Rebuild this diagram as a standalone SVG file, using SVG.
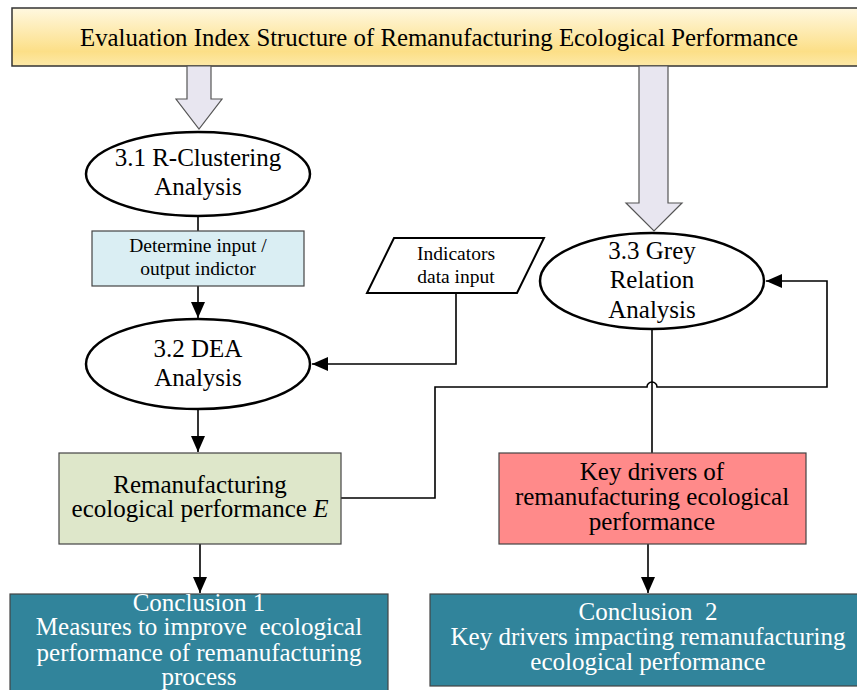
<svg xmlns="http://www.w3.org/2000/svg" width="857" height="690" viewBox="0 0 857 690">
<style>
text{font-family:"Liberation Serif","Times New Roman",serif;fill:#000;text-anchor:middle}
.big{font-size:25px}
.sm{font-size:19.5px}
.wt{fill:#fff}
.ell{fill:#fff;stroke:#000;stroke-width:2.5}
.box{stroke:#444;stroke-width:1.2}
.conn{fill:none;stroke:#000;stroke-width:1.6}
.blk{fill:#E8E6F0;stroke:#555;stroke-width:1.2}
</style>
<defs>
<linearGradient id="tg" x1="0" y1="0" x2="0" y2="1">
<stop offset="0" stop-color="#FFF8E0"/>
<stop offset="0.75" stop-color="#FCDF87"/>
<stop offset="1" stop-color="#FDE9A8"/>
</linearGradient>
<marker id="ah" viewBox="0 0 16 14" refX="16" refY="7" markerWidth="16" markerHeight="14" markerUnits="userSpaceOnUse" orient="auto">
<path d="M0,0 L16,7 L0,14 z" fill="#000"/>
</marker>
</defs>
<rect width="857" height="690" fill="#fff"/>

<g id="title">
<rect x="12" y="8" width="850" height="58" fill="url(#tg)" stroke="#333" stroke-width="1.5"/>
<text x="439" y="46" font-size="25" textLength="718" lengthAdjust="spacingAndGlyphs">Evaluation Index Structure of Remanufacturing Ecological Performance</text>
</g>

<g id="connectors">
<path class="blk" d="M187,66 L211,66 L211,99 L222,99 L199,129 L176,99 L187,99 z"/>
<path class="blk" d="M639,66 L668,66 L668,203 L682,203 L654,231 L626,203 L639,203 z"/>
<path class="conn" d="M198,217 L198,231"/>
<path class="conn" d="M198,286 L198,318" marker-end="url(#ah)"/>
<path class="conn" d="M198,409 L198,452" marker-end="url(#ah)"/>
<path class="conn" d="M200,544 L200,593" marker-end="url(#ah)"/>
<path class="conn" d="M456,293 L456,364 L312,364" marker-end="url(#ah)"/>
<path class="conn" d="M341,498 L435,498 L435,387 L647,387 A5,5 0 0 1 657,387 L827,387 L827,281 L766,281" marker-end="url(#ah)"/>
<path class="conn" d="M652,329 L652,453"/>
<path class="conn" d="M648,544 L648,593" marker-end="url(#ah)"/>
</g>

<g id="n31">
<ellipse class="ell" cx="198" cy="174" rx="112" ry="42"/>
<text class="big" x="198" y="166">3.1 R-Clustering</text>
<text class="big" x="198" y="195">Analysis</text>
</g>

<g id="determine">
<rect class="box" x="92" y="231" width="212" height="55" fill="#DAEEF3"/>
<text class="sm" x="198" y="252">Determine input /</text>
<text class="sm" x="198" y="275">output indictor</text>
</g>

<g id="n32">
<ellipse class="ell" cx="198" cy="364" rx="112" ry="45"/>
<text class="big" x="198" y="357">3.2 DEA</text>
<text class="big" x="198" y="386">Analysis</text>
</g>

<g id="indicators">
<path d="M394,238 L544,238 L517,293 L367,293 z" fill="#fff" stroke="#000" stroke-width="2"/>
<text class="sm" x="456" y="260">Indicators</text>
<text class="sm" x="456" y="283">data input</text>
</g>

<g id="n33">
<ellipse class="ell" cx="652" cy="281" rx="112" ry="48"/>
<text class="big" x="652" y="259">3.3 Grey</text>
<text class="big" x="652" y="288">Relation</text>
<text class="big" x="652" y="318">Analysis</text>
</g>

<g id="perfE">
<rect class="box" x="59" y="453" width="282" height="91" fill="#DEE7CA"/>
<text class="big" x="200" y="493">Remanufacturing</text>
<text class="big" x="200" y="517">ecological performance <tspan font-style="italic">E</tspan></text>
</g>

<g id="drivers">
<rect class="box" x="499" y="453" width="307" height="91" fill="#FF8A8A"/>
<text class="big" x="652" y="480">Key drivers of</text>
<text class="big" x="652" y="505">remanufacturing ecological</text>
<text class="big" x="652" y="530">performance</text>
</g>

<g id="conclusion1">
<rect class="box" x="10" y="594" width="378" height="110" fill="#31849B"/>
<text class="big wt" x="199" y="611">Conclusion 1</text>
<text class="big wt" x="199" y="635" xml:space="preserve">Measures to improve  ecological</text>
<text class="big wt" x="199" y="661">performance of remanufacturing</text>
<text class="big wt" x="199" y="685">process</text>
</g>

<g id="conclusion2">
<rect class="box" x="430" y="594" width="440" height="92" fill="#31849B"/>
<text class="big wt" x="648" y="620" xml:space="preserve">Conclusion  2</text>
<text class="big wt" x="648" y="645">Key drivers impacting remanufacturing</text>
<text class="big wt" x="648" y="670">ecological performance</text>
</g>
</svg>
